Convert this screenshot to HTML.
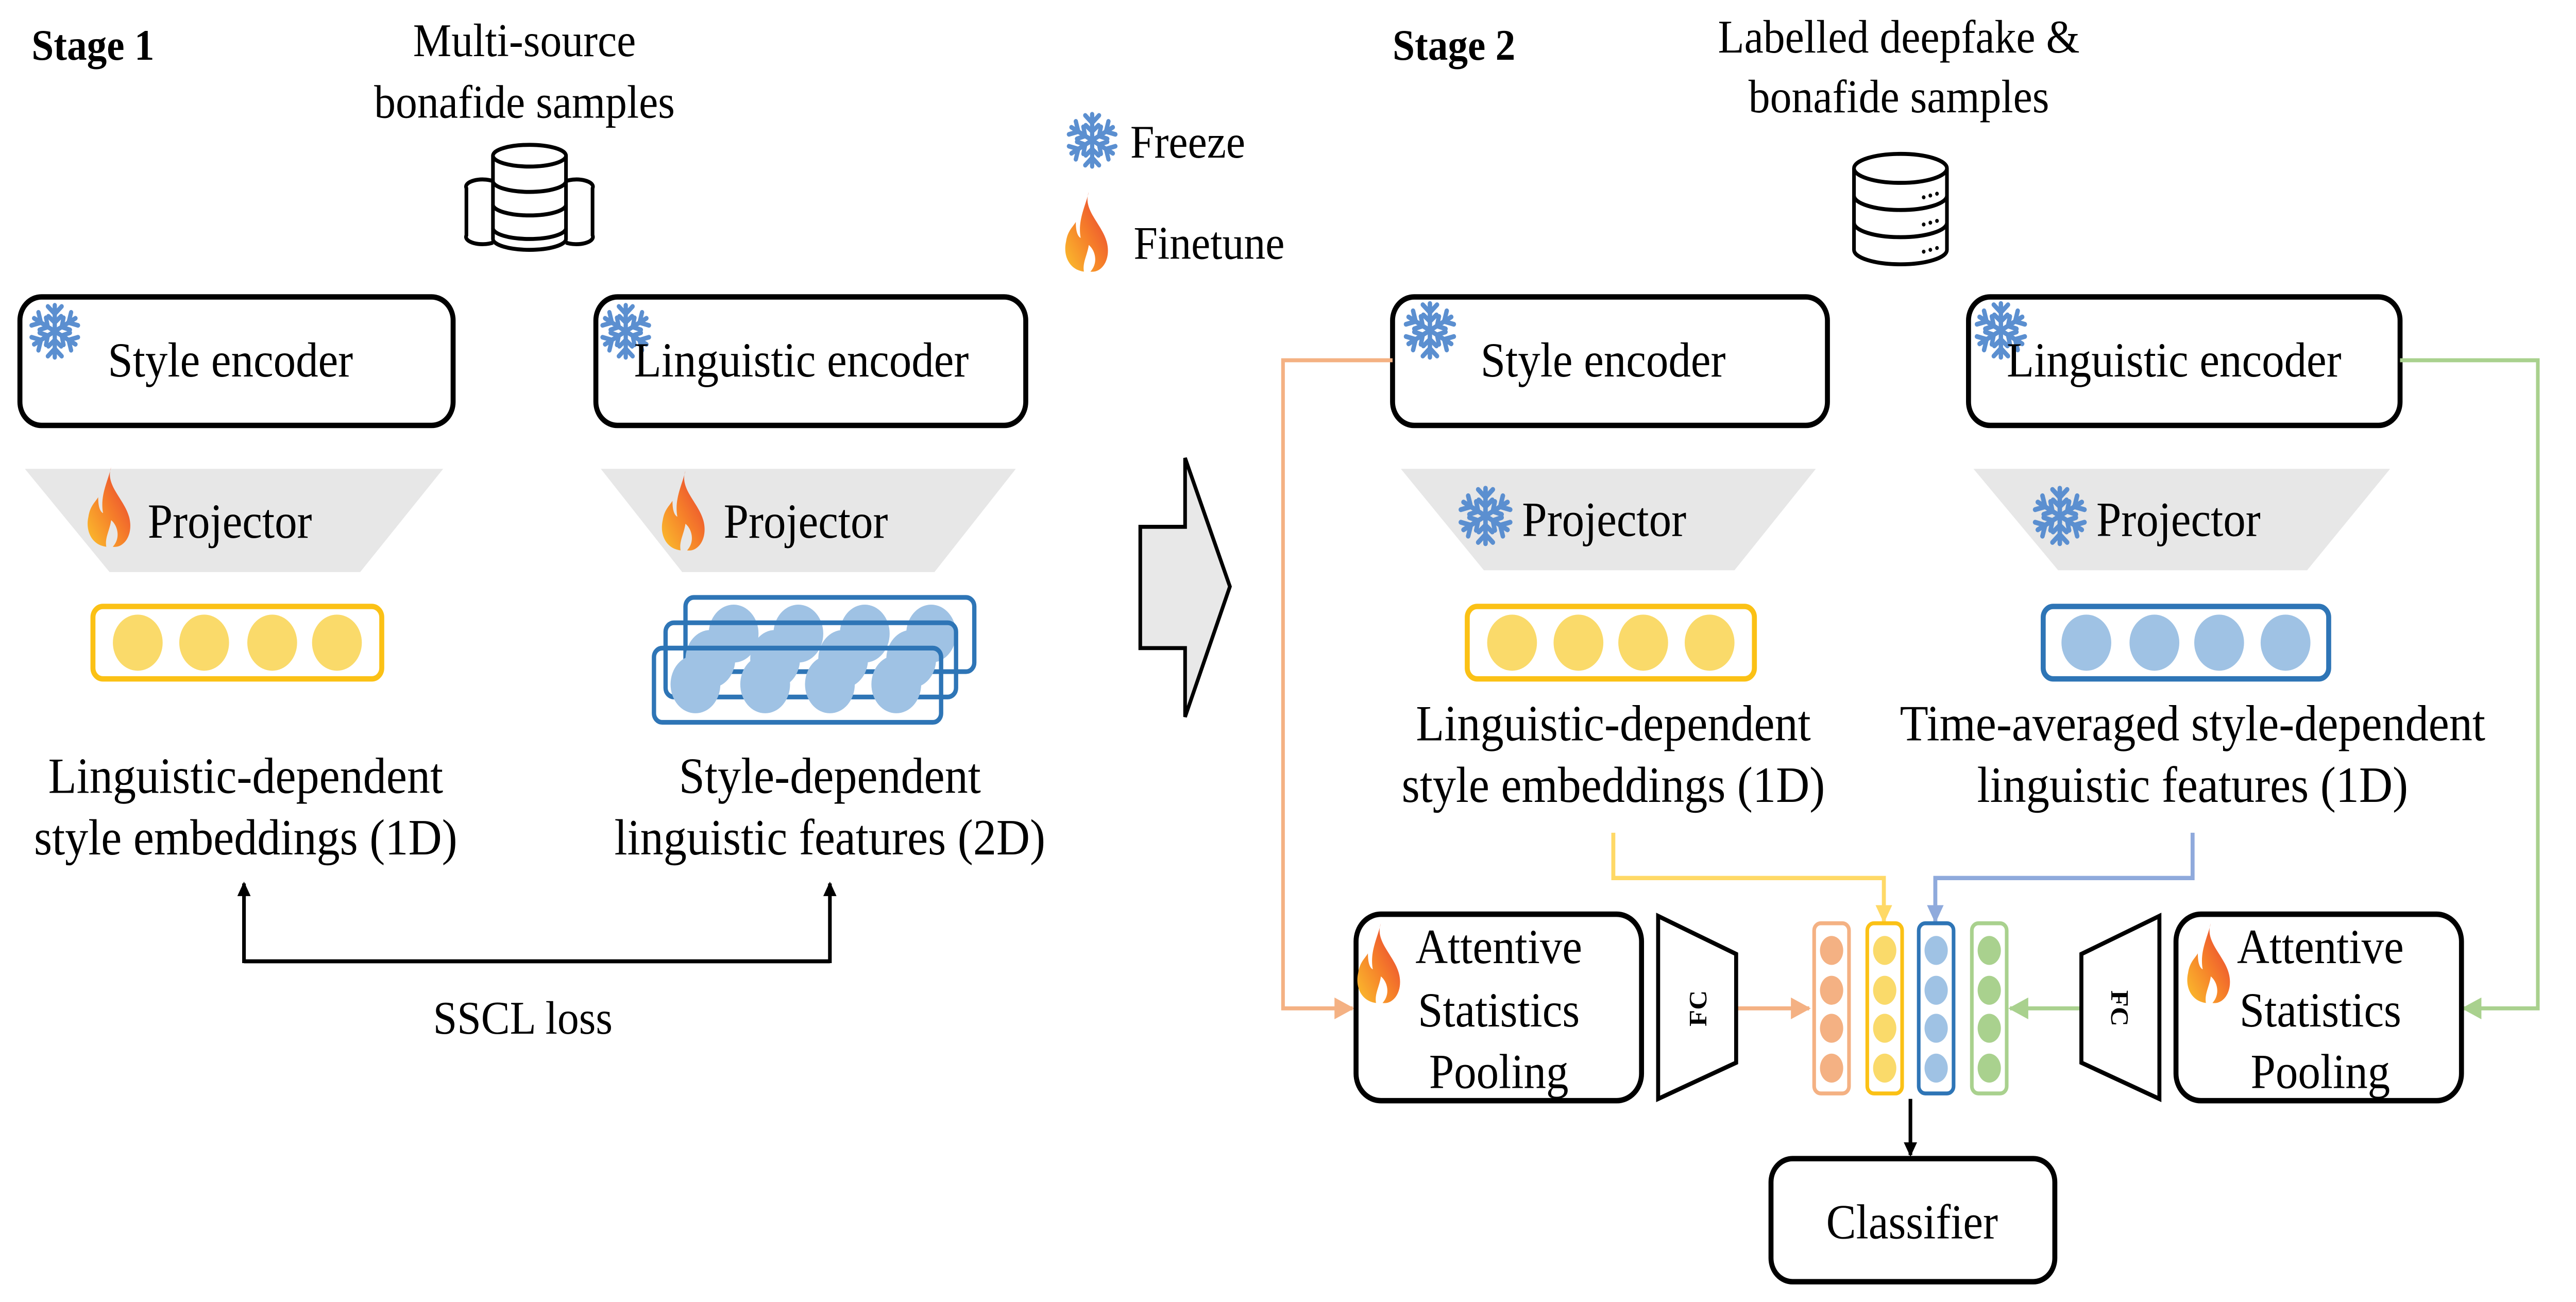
<!DOCTYPE html>
<html><head><meta charset="utf-8"><style>html,body{margin:0;padding:0;background:#fff;overflow:hidden}svg{display:block;width:100vw;height:100vh}</style></head>
<body>
<svg viewBox="0 0 1552 719.2" preserveAspectRatio="none" xmlns="http://www.w3.org/2000/svg" font-family="'Liberation Serif', serif">
<defs>
<linearGradient id="fg" x1="0" y1="1" x2="1" y2="0">
<stop offset="0" stop-color="#fbc02d"/><stop offset="0.5" stop-color="#f57c2a"/><stop offset="1" stop-color="#e53935"/>
</linearGradient>
<symbol id="snow" viewBox="-10 -10 20 20">
<g stroke="#5b8fd0" stroke-width="1.6" fill="none" stroke-linecap="round">
<g id="arm"><line x1="0" y1="0" x2="0" y2="-9"/><polyline points="-2.6,-8.6 0,-6 2.6,-8.6"/><polyline points="-2.4,-5.2 0,-3 2.4,-5.2"/></g>
<use href="#arm" transform="rotate(60)"/><use href="#arm" transform="rotate(120)"/><use href="#arm" transform="rotate(180)"/><use href="#arm" transform="rotate(240)"/><use href="#arm" transform="rotate(300)"/>
</g>
</symbol>
<symbol id="flame" viewBox="0 0 30 46">
<path d="M16,0 C12,10 24,18 27,28 C30,38 24,46 17,45 C22,40 20,33 16,30 C15,36 12,40 13,45 C4,44 0,36 2,28 C3,22 6,20 8,17 C8,22 9,25 11,26 C9,16 14,8 16,0 Z" fill="url(#fg)"/>
</symbol>
<marker id="ab" markerWidth="8" markerHeight="8" refX="7" refY="4" orient="auto" markerUnits="userSpaceOnUse"><path d="M0,0 L8,4 L0,8 Z" fill="#000"/></marker>
<marker id="ao" markerWidth="12" markerHeight="12" refX="11" refY="6" orient="auto" markerUnits="userSpaceOnUse"><path d="M0,0 L12,6 L0,12 Z" fill="#f4b183"/></marker>
<marker id="ag" markerWidth="12" markerHeight="12" refX="11" refY="6" orient="auto" markerUnits="userSpaceOnUse"><path d="M0,0 L12,6 L0,12 Z" fill="#a9d18e"/></marker>
<marker id="ay" markerWidth="10" markerHeight="12" refX="9" refY="5" orient="auto" markerUnits="userSpaceOnUse"><path d="M0,0 L10,5 L0,10 Z" fill="#ffd966"/></marker>
<marker id="abl" markerWidth="10" markerHeight="12" refX="9" refY="5" orient="auto" markerUnits="userSpaceOnUse"><path d="M0,0 L10,5 L0,10 Z" fill="#8faadc"/></marker>
</defs>

<text x="19" y="33" font-size="24" font-weight="bold">Stage 1</text>
<text x="316" y="31" font-size="26" text-anchor="middle">Multi-source</text>
<text x="316" y="65" font-size="26" text-anchor="middle">bonafide samples</text>
<g fill="#fff" stroke="#000" stroke-width="2.2">
<path d="M297,100 a10,4 0 0 0 -16,4 v26 a10,4 0 0 0 16,4"/>
<path d="M341,100 a10,4 0 0 1 16,4 v26 a10,4 0 0 1 -16,4"/>
<path d="M297,86 v46 a22,6 0 0 0 44,0 v-46"/>
<ellipse cx="319" cy="86" rx="22" ry="6"/>
<path d="M297,100 a22,6 0 0 0 44,0 M297,113 a22,6 0 0 0 44,0 M297,126 a22,6 0 0 0 44,0" fill="none"/>
</g>
<use href="#snow" x="642" y="61" width="32" height="33"/>
<text x="681" y="87" font-size="26">Freeze</text>
<use href="#flame" x="640" y="106" width="30" height="45"/>
<text x="683" y="143" font-size="26">Finetune</text>

<rect x="12" y="164" width="261" height="71" rx="13" fill="none" stroke="#000" stroke-width="3"/>
<use href="#snow" x="17" y="167" width="32" height="32"/>
<text x="65" y="208" font-size="27">Style encoder</text>
<rect x="359" y="164" width="259" height="71" rx="13" fill="none" stroke="#000" stroke-width="3"/>
<use href="#snow" x="361" y="167" width="32" height="32"/>
<text x="382" y="208" font-size="27">Linguistic encoder</text>

<polygon points="15,259 267,259 217,316 66,316" fill="#e7e7e7"/>
<use href="#flame" x="51" y="258" width="30" height="45"/>
<text x="89" y="297" font-size="27">Projector</text>
<polygon points="362,259 612,259 563,316 411,316" fill="#e7e7e7"/>
<use href="#flame" x="397" y="260" width="30" height="45"/>
<text x="436" y="297" font-size="27">Projector</text>

<rect x="56" y="335" width="174" height="40" rx="6" fill="none" stroke="#fbc115" stroke-width="3"/>
<g fill="#fada6a"><ellipse cx="83" cy="355" rx="15" ry="15.5"/><ellipse cx="123" cy="355" rx="15" ry="15.5"/><ellipse cx="164" cy="355" rx="15" ry="15.5"/><ellipse cx="203" cy="355" rx="15" ry="15.5"/></g>

<g fill="#9fc2e4">
<ellipse cx="442" cy="350" rx="15" ry="16"/><ellipse cx="481" cy="350" rx="15" ry="16"/><ellipse cx="521" cy="350" rx="15" ry="16"/><ellipse cx="561" cy="350" rx="15" ry="16"/>
</g>
<rect x="413" y="330" width="174" height="41" rx="5" fill="none" stroke="#2e75b6" stroke-width="2.6"/>
<g fill="#9fc2e4">
<ellipse cx="428" cy="364" rx="15" ry="16"/><ellipse cx="467" cy="364" rx="15" ry="16"/><ellipse cx="508" cy="364" rx="15" ry="16"/><ellipse cx="549" cy="364" rx="15" ry="16"/>
</g>
<rect x="401" y="344" width="175" height="41" rx="5" fill="none" stroke="#2e75b6" stroke-width="2.6"/>
<g fill="#9fc2e4">
<ellipse cx="419" cy="378" rx="15" ry="16"/><ellipse cx="461" cy="378" rx="15" ry="16"/><ellipse cx="500" cy="378" rx="15" ry="16"/><ellipse cx="540" cy="378" rx="15" ry="16"/>
</g>
<rect x="394" y="358" width="173" height="41" rx="5" fill="none" stroke="#2e75b6" stroke-width="2.6"/>

<text x="148" y="438" font-size="28" text-anchor="middle">Linguistic-dependent</text>
<text x="148" y="472" font-size="28" text-anchor="middle">style embeddings (1D)</text>
<text x="500" y="438" font-size="28" text-anchor="middle">Style-dependent</text>
<text x="500" y="472" font-size="28" text-anchor="middle">linguistic features (2D)</text>

<line x1="147" y1="531" x2="500" y2="531" stroke="#000" stroke-width="2.2"/>
<line x1="147" y1="532" x2="147" y2="488" stroke="#000" stroke-width="2.2" marker-end="url(#ab)"/>
<line x1="500" y1="532" x2="500" y2="488" stroke="#000" stroke-width="2.2" marker-end="url(#ab)"/>
<text x="315" y="571" font-size="26" text-anchor="middle">SSCL loss</text>

<polygon points="687,291 714,291 714,253 741,324 714,396 714,358 687,358" fill="#e8e8e8" stroke="#000" stroke-width="2.2"/>

<text x="839" y="33" font-size="24" font-weight="bold">Stage 2</text>
<text x="1144" y="29" font-size="26" text-anchor="middle">Labelled deepfake &amp;</text>
<text x="1144" y="62" font-size="26" text-anchor="middle">bonafide samples</text>
<g fill="#fff" stroke="#000" stroke-width="2.2">
<path d="M1117,93 v45 a28,8 0 0 0 56,0 v-45"/>
<ellipse cx="1145" cy="93" rx="28" ry="8"/>
<path d="M1117,108 a28,8 0 0 0 56,0 M1117,123 a28,8 0 0 0 56,0" fill="none"/>
</g>
<g fill="#000"><circle cx="1159" cy="109" r="1.1"/><circle cx="1163" cy="108" r="1.1"/><circle cx="1167" cy="107" r="1.1"/>
<circle cx="1159" cy="124" r="1.1"/><circle cx="1163" cy="123" r="1.1"/><circle cx="1167" cy="122" r="1.1"/>
<circle cx="1159" cy="139" r="1.1"/><circle cx="1163" cy="138" r="1.1"/><circle cx="1167" cy="137" r="1.1"/></g>

<rect x="839" y="164" width="262" height="71" rx="13" fill="none" stroke="#000" stroke-width="3"/>
<use href="#snow" x="845" y="166" width="33" height="33"/>
<text x="892" y="208" font-size="27">Style encoder</text>
<rect x="1186" y="164" width="260" height="71" rx="13" fill="none" stroke="#000" stroke-width="3"/>
<use href="#snow" x="1189" y="166" width="33" height="33"/>
<text x="1209" y="208" font-size="27">Linguistic encoder</text>

<polygon points="844,259 1094,259 1045,315 894,315" fill="#e7e7e7"/>
<use href="#snow" x="878" y="268" width="34" height="34"/>
<text x="917" y="296" font-size="27">Projector</text>
<polygon points="1189,259 1440,259 1390,315 1240,315" fill="#e7e7e7"/>
<use href="#snow" x="1224" y="268" width="34" height="34"/>
<text x="1263" y="296" font-size="27">Projector</text>

<rect x="884" y="335" width="173" height="40" rx="6" fill="none" stroke="#fbc115" stroke-width="3"/>
<g fill="#fada6a"><ellipse cx="911" cy="355" rx="15" ry="15.5"/><ellipse cx="951" cy="355" rx="15" ry="15.5"/><ellipse cx="990" cy="355" rx="15" ry="15.5"/><ellipse cx="1030" cy="355" rx="15" ry="15.5"/></g>
<rect x="1231" y="335" width="172" height="40" rx="6" fill="none" stroke="#2e75b6" stroke-width="3"/>
<g fill="#9fc2e4"><ellipse cx="1257" cy="355" rx="15" ry="15.5"/><ellipse cx="1298" cy="355" rx="15" ry="15.5"/><ellipse cx="1337" cy="355" rx="15" ry="15.5"/><ellipse cx="1377" cy="355" rx="15" ry="15.5"/></g>

<text x="972" y="409" font-size="28" text-anchor="middle">Linguistic-dependent</text>
<text x="972" y="443" font-size="28" text-anchor="middle">style embeddings (1D)</text>
<text x="1321" y="409" font-size="28" text-anchor="middle">Time-averaged style-dependent</text>
<text x="1321" y="443" font-size="28" text-anchor="middle">linguistic features (1D)</text>

<polyline points="839,199 773,199 773,557 815,557" fill="none" stroke="#f4b183" stroke-width="2.2" marker-end="url(#ao)"/>
<polyline points="1446,199 1529,199 1529,557 1484,557" fill="none" stroke="#a9d18e" stroke-width="2.2" marker-end="url(#ag)"/>
<polyline points="972,460 972,485 1135,485 1135,509" fill="none" stroke="#ffd966" stroke-width="2.4" marker-end="url(#ay)"/>
<polyline points="1321,460 1321,485 1166,485 1166,509" fill="none" stroke="#8faadc" stroke-width="2.4" marker-end="url(#abl)"/>
<line x1="1046" y1="557" x2="1090" y2="557" stroke="#f4b183" stroke-width="2.2" marker-end="url(#ao)"/>
<line x1="1253" y1="557" x2="1211" y2="557" stroke="#a9d18e" stroke-width="2.2" marker-end="url(#ag)"/>

<rect x="817" y="505" width="172" height="103" rx="15" fill="none" stroke="#000" stroke-width="3"/>
<use href="#flame" x="815" y="510" width="32" height="45"/>
<text x="903" y="532" font-size="27" text-anchor="middle">Attentive</text>
<text x="903" y="567" font-size="27" text-anchor="middle">Statistics</text>
<text x="903" y="601" font-size="27" text-anchor="middle">Pooling</text>
<polygon points="999,506 1046,527 1046,587 999,607" fill="#fff" stroke="#000" stroke-width="2.4"/>
<text transform="translate(1028,557) rotate(-90)" font-size="15" font-weight="bold" text-anchor="middle">FC</text>

<rect x="1311" y="505" width="172" height="103" rx="15" fill="none" stroke="#000" stroke-width="3"/>
<use href="#flame" x="1315" y="510" width="32" height="45"/>
<text x="1398" y="532" font-size="27" text-anchor="middle">Attentive</text>
<text x="1398" y="567" font-size="27" text-anchor="middle">Statistics</text>
<text x="1398" y="601" font-size="27" text-anchor="middle">Pooling</text>
<polygon points="1301,506 1254,527 1254,587 1301,607" fill="#fff" stroke="#000" stroke-width="2.4"/>
<text transform="translate(1272,557) rotate(90)" font-size="15" font-weight="bold" text-anchor="middle">FC</text>

<rect x="1093" y="510" width="21" height="94" rx="4" fill="none" stroke="#f4b183" stroke-width="2.2"/>
<rect x="1125" y="510" width="21" height="94" rx="4" fill="none" stroke="#fbc115" stroke-width="2.2"/>
<rect x="1156" y="510" width="21" height="94" rx="4" fill="none" stroke="#2e75b6" stroke-width="2.2"/>
<rect x="1188" y="510" width="21" height="94" rx="4" fill="none" stroke="#a9d18e" stroke-width="2.2"/>
<g fill="#f4b183"><ellipse cx="1103.5" cy="525" rx="7" ry="8"/><ellipse cx="1103.5" cy="547" rx="7" ry="8"/><ellipse cx="1103.5" cy="568" rx="7" ry="8"/><ellipse cx="1103.5" cy="590" rx="7" ry="8"/></g>
<g fill="#fada6a"><ellipse cx="1135.5" cy="525" rx="7" ry="8"/><ellipse cx="1135.5" cy="547" rx="7" ry="8"/><ellipse cx="1135.5" cy="568" rx="7" ry="8"/><ellipse cx="1135.5" cy="590" rx="7" ry="8"/></g>
<g fill="#9fc2e4"><ellipse cx="1166.5" cy="525" rx="7" ry="8"/><ellipse cx="1166.5" cy="547" rx="7" ry="8"/><ellipse cx="1166.5" cy="568" rx="7" ry="8"/><ellipse cx="1166.5" cy="590" rx="7" ry="8"/></g>
<g fill="#a9d18e"><ellipse cx="1198.5" cy="525" rx="7" ry="8"/><ellipse cx="1198.5" cy="547" rx="7" ry="8"/><ellipse cx="1198.5" cy="568" rx="7" ry="8"/><ellipse cx="1198.5" cy="590" rx="7" ry="8"/></g>

<line x1="1151" y1="607" x2="1151" y2="638" stroke="#000" stroke-width="2.2" marker-end="url(#ab)"/>
<rect x="1067" y="640" width="171" height="68" rx="13" fill="none" stroke="#000" stroke-width="3"/>
<text x="1152" y="684" font-size="27" text-anchor="middle">Classifier</text>
</svg>
</body></html>
